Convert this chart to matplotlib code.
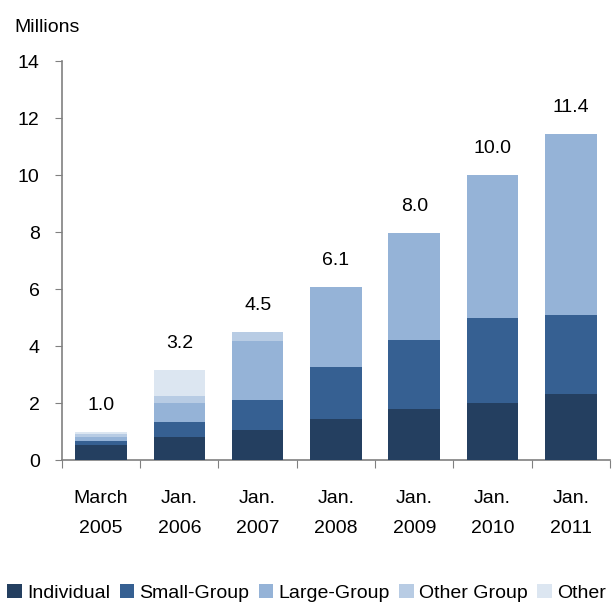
import numpy as np
import matplotlib
matplotlib.use('Agg')
import matplotlib.pyplot as plt

plt.rcParams['font.family'] = ['Liberation Sans', 'DejaVu Sans']

# ==============================
# Data (millions)
# ==============================
categories = ['March\n2005', 'Jan.\n2006', 'Jan.\n2007', 'Jan.\n2008', 'Jan.\n2009', 'Jan.\n2010', 'Jan.\n2011']
individual = [0.53, 0.83, 1.06, 1.45, 1.81, 2.01, 2.33]
small_group = [0.14, 0.50, 1.07, 1.82, 2.40, 2.97, 2.77]
large_group = [0.14, 0.68, 2.06, 2.81, 3.77, 5.01, 6.33]
other_group = [0.10, 0.26, 0.29, 0.0, 0.0, 0.0, 0.0]
other = [0.08, 0.88, 0.0, 0.0, 0.0, 0.0, 0.0]
total_labels = ['1.0', '3.2', '4.5', '6.1', '8.0', '10.0', '11.4']

series = [
    ('Individual', individual, '#243F60'),
    ('Small-Group', small_group, '#366092'),
    ('Large-Group', large_group, '#95B3D7'),
    ('Other Group', other_group, '#B8CCE4'),
    ('Other', other, '#DCE6F1'),
]

FS = 14

fig = plt.figure(figsize=(6.13, 6.04), dpi=100)
ax = fig.add_axes([0.101, 0.238, 0.894, 0.661])

x = np.arange(len(categories))
bottom = np.zeros(len(categories))
for name, vals, color in series:
    vals = np.array(vals)
    ax.bar(x, vals, width=0.66, bottom=bottom, color=color, label=name,
           edgecolor='none', zorder=3)
    bottom = bottom + vals

# total labels above bars
for xi, top, lab in zip(x, bottom, total_labels):
    ax.annotate(lab, (xi, top), xytext=(0, 13), textcoords='offset points',
                ha='center', va='bottom', fontsize=FS)

ax.set_xlim(-0.5, len(categories) - 0.5)
ax.set_ylim(0, 14)
ax.set_yticks(range(0, 15, 2))
ax.tick_params(axis='y', labelsize=FS, length=5, color='#808080', direction='out', pad=11)

# category ticks sit between bars
ax.set_xticks(np.arange(-0.5, len(categories), 1.0))
ax.set_xticklabels([])
ax.tick_params(axis='x', length=6, color='#808080', direction='out')
for xi, cat in zip(x, categories):
    ax.text(xi, -1.05, cat, ha='center', va='top', fontsize=FS, linespacing=1.95)

for s in ['top', 'right']:
    ax.spines[s].set_visible(False)
for s in ['left', 'bottom']:
    ax.spines[s].set_color('#808080')
    ax.spines[s].set_linewidth(1.2)

fig.text(0.024, 0.955, 'Millions', fontsize=FS, ha='left', va='center')

handles, labels = ax.get_legend_handles_labels()
fig.legend(handles, labels, loc='center', bbox_to_anchor=(0.5, 0.018), ncol=5, frameon=False,
           fontsize=FS, handlelength=0.75, handleheight=0.75, handletextpad=0.25,
           columnspacing=0.5, borderaxespad=0, borderpad=0)

fig.savefig('out.png', dpi=100)
